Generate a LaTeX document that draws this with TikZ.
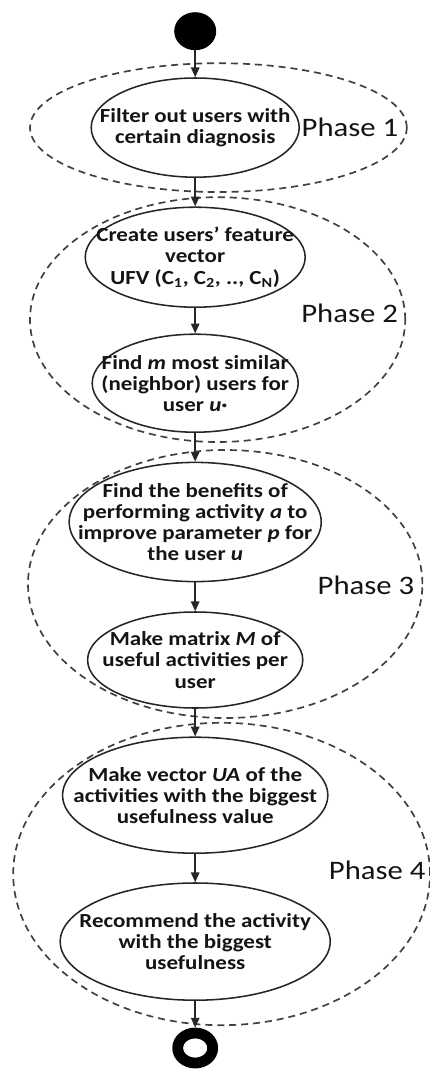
\documentclass[tikz,border=0pt]{standalone}
\usepackage{fontspec}
\setmainfont{Carlito}
\newfontfamily\stepfont[FakeStretch=1.15]{Carlito}
\usepackage{xcolor}
\definecolor{phink}{HTML}{141414}
\definecolor{phline}{HTML}{262626}
\definecolor{phdash}{HTML}{404040}
\usepackage{tikz}
\usetikzlibrary{arrows.meta,shapes.geometric}
\tikzset{
  phstep/.style  ={ellipse, draw=phline, line width=1.1pt, inner sep=-7mm,
                   align=center, text=phink,
                   font=\stepfont\bfseries\fontsize{14.2}{15}\selectfont},
  phstart/.style ={ellipse, fill=black, minimum width=1.05cm,
                   minimum height=0.95cm, inner sep=0pt},
  phend/.style   ={ellipse, draw=black, line width=0.27cm, minimum width=0.875cm,
                   minimum height=0.75cm, inner sep=0pt},
  pharrow/.style ={-{Triangle[length=7pt,width=6pt]}, line width=1.1pt, draw=phline},
  phzone/.style  ={draw=phdash, line width=1.2pt, dash pattern=on 5pt off 3.5pt},
  phlbl/.style   ={font=\stepfont\fontsize{19}{22}\selectfont, text=phink},
}

\begin{document}
\begin{tikzpicture}
  \useasboundingbox (0,0) rectangle (10.75,-26.75);
  % dashed outlines of the four phases
  \draw[phzone] (5.46,-3.19) ellipse (4.71 and 1.61);
  \draw[phzone] (5.44,-7.99) ellipse (4.69 and 3.06);
  \draw[phzone] (5.63,-14.6) ellipse (4.93 and 3.35);
  \draw[phzone] (5.54,-21.85) ellipse (5.21 and 3.78);
  \node[phlbl] (ph1) at (8.75,-3.18) {Phase 1};
  \node[phlbl] (ph2) at (8.74,-7.83) {Phase 2};
  \node[phlbl] (ph3) at (9.15,-14.63) {Phase 3};
  \node[phlbl] (ph4) at (9.43,-21.75) {Phase 4};
  % activities
  \node[phstart] (start) at (4.88,-0.78) {};
  \node[phstep, minimum width=5.2cm, minimum height=2.48cm] (filter) at (4.88,-3.19)
    {Filter out users with\\certain diagnosis};
  \node[phstep, minimum width=5.5cm, minimum height=2.5cm] (ufv) at (4.88,-6.43)
    {Create users’ feature\\vector\\UFV (C\textsubscript{1}, C\textsubscript{2}, .., C\textsubscript{N})};
  \node[phstep, minimum width=5.15cm, minimum height=2.45cm] (similar) at (4.88,-9.58)
    {Find \textit{m} most similar\\(neighbor) users for\\user \textit{u}·};
  \node[phstep, minimum width=6.25cm, minimum height=2.98cm] (benefit) at (4.88,-13.05)
    {Find the benefits of\\performing activity \textit{a} to\\improve parameter \textit{p} for\\the user \textit{u}};
  \node[phstep, minimum width=5.38cm, minimum height=2.4cm] (matrix) at (4.88,-16.5)
    {Make matrix \textit{M} of\\useful activities per\\user};
  \node[phstep, minimum width=6.25cm, minimum height=2.9cm] (vector) at (4.88,-19.88)
    {Make vector \textit{UA} of the\\activities with the biggest\\usefulness value};
  \node[phstep, minimum width=6.75cm, minimum height=2.93cm] (recommend) at (4.88,-23.54)
    {Recommend the activity\\with the biggest\\usefulness};
  \node[phend] (stop) at (4.88,-26.2) {};
  \foreach \a/\b in {start/filter, filter/ufv, ufv/similar, similar/benefit,
                     benefit/matrix, matrix/vector, vector/recommend, recommend/stop}
    \draw[pharrow] (\a) -- (\b);
\end{tikzpicture}
\end{document}
